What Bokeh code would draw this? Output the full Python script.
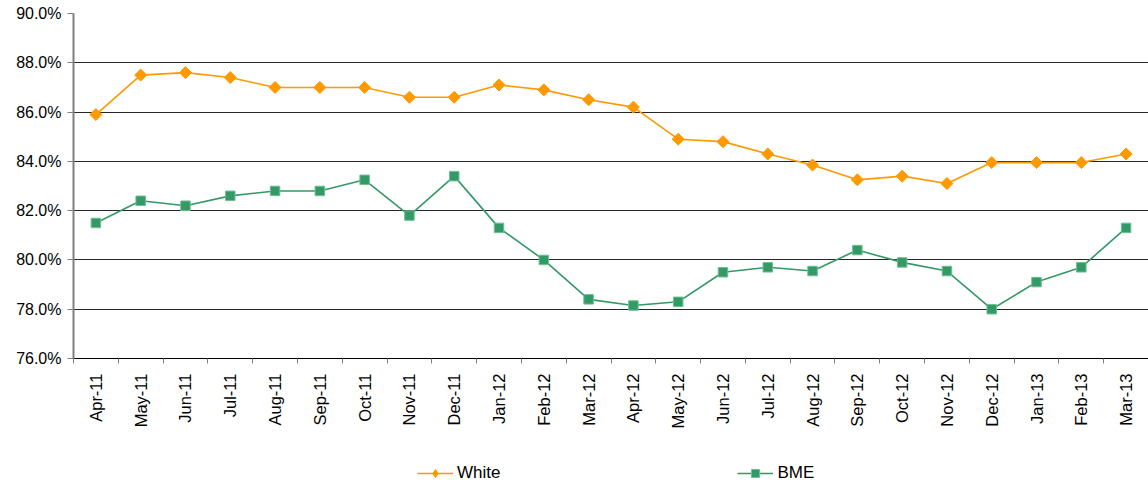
import numpy as np
from bokeh.plotting import figure
from bokeh.layouts import column
from bokeh.models import Range1d, FixedTicker, PrintfTickFormatter, Legend, LegendItem
from bokeh.embed import file_html
from bokeh.resources import INLINE

months = ["Apr-11", "May-11", "Jun-11", "Jul-11", "Aug-11", "Sep-11", "Oct-11", "Nov-11",
          "Dec-11", "Jan-12", "Feb-12", "Mar-12", "Apr-12", "May-12", "Jun-12", "Jul-12",
          "Aug-12", "Sep-12", "Oct-12", "Nov-12", "Dec-12", "Jan-13", "Feb-13", "Mar-13"]
white = [85.9, 87.5, 87.6, 87.4, 87.0, 87.0, 87.0, 86.6, 86.6, 87.1, 86.9, 86.5,
         86.2, 84.9, 84.8, 84.3, 83.85, 83.25, 83.4, 83.1, 83.95, 83.95, 83.95, 84.3]
bme = [81.5, 82.4, 82.2, 82.6, 82.8, 82.8, 83.25, 81.8, 83.4, 81.3, 80.0, 78.4,
       78.15, 78.3, 79.5, 79.7, 79.55, 80.4, 79.9, 79.55, 78.0, 79.1, 79.7, 81.3]
y_ticks = [76, 78, 80, 82, 84, 86, 88, 90]

FONT = "Liberation Sans"
ORANGE = "#FF9900"
GREEN = "#339966"
SQ_EDGE = "#6cc092"

n = len(months)
xs = np.arange(n) + 0.5

p = figure(width=1148, height=444, output_backend="svg", toolbar_location=None,
           x_range=Range1d(0, n), y_range=Range1d(76, 90),
           min_border_left=73, min_border_right=0, min_border_top=13, min_border_bottom=86)
p.outline_line_color = None

# y axis
p.yaxis.ticker = FixedTicker(ticks=y_ticks)
p.yaxis.formatter = PrintfTickFormatter(format="%.1f%%")
p.yaxis.major_label_text_font = FONT
p.yaxis.major_label_text_font_size = "16px"
p.yaxis.major_label_text_color = "black"
p.yaxis.axis_line_color = "#808080"
p.yaxis.axis_line_width = 2
p.yaxis.major_tick_line_color = "#808080"
p.yaxis.major_tick_in = 0
p.yaxis.major_tick_out = 6
p.yaxis.minor_tick_line_color = None
p.yaxis.major_label_standoff = 6

# x axis
p.xaxis.ticker = FixedTicker(ticks=list(xs), minor_ticks=list(range(n + 1)))
p.xaxis.major_label_overrides = {float(x): m for x, m in zip(xs, months)}
p.xaxis.major_label_orientation = np.pi / 2
p.xaxis.major_label_text_font = FONT
p.xaxis.major_label_text_font_size = "16.5px"
p.xaxis.major_label_text_color = "black"
p.xaxis.major_tick_line_color = None
p.xaxis.major_tick_out = 6
p.xaxis.minor_tick_line_color = "#808080"
p.xaxis.minor_tick_in = 0
p.xaxis.minor_tick_out = 5
p.xaxis.axis_line_color = "#000000"
p.xaxis.axis_line_width = 1
p.xaxis.major_label_standoff = 9

p.xgrid.grid_line_color = None
p.ygrid.ticker = FixedTicker(ticks=y_ticks)
p.ygrid.grid_line_color = "#000000"
p.ygrid.grid_line_width = 1
p.ygrid.grid_line_alpha = 0.85

p.line(xs, white, line_color=ORANGE, line_width=1.6)
p.scatter(xs, white, marker="square", angle=np.pi / 4, size=8.5,
          fill_color=ORANGE, line_color=ORANGE, line_width=1)
p.line(xs, bme, line_color=GREEN, line_width=1.6)
p.scatter(xs, bme, marker="square", size=9.5,
          fill_color=GREEN, line_color=SQ_EDGE, line_width=1)

# legend strip below the chart (series proxies lie outside this strip's ranges)
q = figure(width=1148, height=40, output_backend="svg", toolbar_location=None,
           x_range=Range1d(-200, -199), y_range=Range1d(-200, -199),
           x_axis_location=None, y_axis_location=None,
           min_border_left=73, min_border_right=0, min_border_top=0, min_border_bottom=0)
q.outline_line_color = None
q.grid.visible = False
lw = q.line(xs, white, line_color=ORANGE, line_width=1.6)
mw = q.scatter(xs, white, marker="diamond", size=11,
               fill_color=ORANGE, line_color=ORANGE, line_width=1)
lb = q.line(xs, bme, line_color=GREEN, line_width=1.6)
mb = q.scatter(xs, bme, marker="square", size=8.5,
               fill_color=GREEN, line_color=SQ_EDGE, line_width=1)

legend = Legend(items=[LegendItem(label="White", renderers=[lw, mw]),
                       LegendItem(label="BME", renderers=[lb, mb])],
                orientation="horizontal", location=(344, 1),
                padding=0, margin=0, spacing=237, glyph_width=36, glyph_height=20,
                label_height=20, label_standoff=4,
                label_text_font=FONT, label_text_font_size="17px", label_text_color="black",
                border_line_color=None, background_fill_alpha=0)
q.add_layout(legend, "center")

open("out.html", "w").write(file_html(column(p, q, spacing=0), INLINE))
